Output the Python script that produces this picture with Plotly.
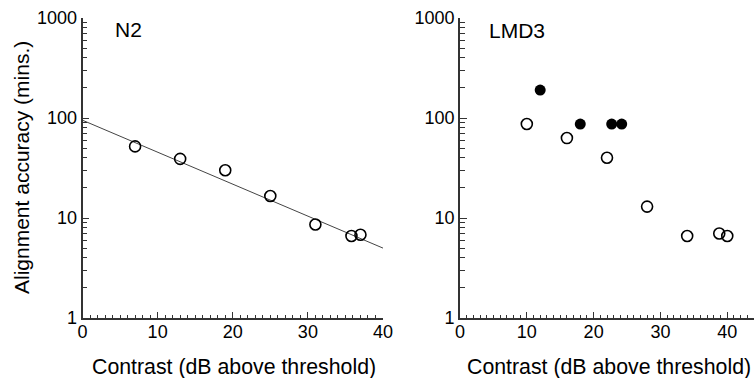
import plotly.graph_objects as go

# ---- data ----
n2_x = [7, 13, 19, 25, 31, 35.8, 37]
n2_y = [52, 39, 30, 16.6, 8.6, 6.6, 6.8]
fit_x = [0, 40]
fit_y = [95, 5.0]

lmd_open_x = [10, 16, 22, 28, 34, 38.8, 40]
lmd_open_y = [87, 63, 40, 13, 6.6, 7.0, 6.6]
lmd_filled_x = [12, 18, 22.7, 24.2]
lmd_filled_y = [190, 87, 87, 87]

x_major = [0, 5, 10, 15, 20, 25, 30, 35, 40]
x_major_text = ["0", "", "10", "", "20", "", "30", "", "40"]
y_major = [1, 10, 100, 1000]
y_major_text = ["1", "10", "100", "1000"]
y_minor = [m * d for d in (1, 10, 100) for m in range(2, 10)]

W, H = 754, 378
FONT = "Liberation Sans, Arial, sans-serif"
AX = "#333333"

fig = go.Figure()

mk_open = dict(symbol="circle-open", size=11, color="black", line=dict(width=1.6, color="black"))
mk_fill = dict(symbol="circle", size=11, color="black")

fig.add_trace(go.Scatter(x=fit_x, y=fit_y, mode="lines", line=dict(color="#444", width=1),
                         xaxis="x", yaxis="y", showlegend=False))
fig.add_trace(go.Scatter(x=n2_x, y=n2_y, mode="markers", marker=mk_open,
                         xaxis="x", yaxis="y", showlegend=False))
fig.add_trace(go.Scatter(x=lmd_open_x, y=lmd_open_y, mode="markers", marker=mk_open,
                         xaxis="x2", yaxis="y2", showlegend=False))
fig.add_trace(go.Scatter(x=lmd_filled_x, y=lmd_filled_y, mode="markers", marker=mk_fill,
                         xaxis="x2", yaxis="y2", showlegend=False))

ydom = [60 / H, 360 / H]

def xaxis(domain, rng, anchor):
    return dict(domain=domain, range=rng, anchor=anchor, automargin=False,
                tickmode="array", tickvals=x_major, ticktext=x_major_text,
                ticks="inside", ticklen=6, tickwidth=1.2, tickcolor=AX,
                ticklabelstandoff=-3,
                minor=dict(tickvals=list(range(0, 45)), ticks="inside", ticklen=3,
                           tickwidth=1, tickcolor=AX),
                showline=True, linecolor=AX, linewidth=1.6,
                showgrid=False, zeroline=False,
                tickfont=dict(family=FONT, size=18, color="black"))

def yaxis(anchor):
    return dict(domain=ydom, type="log", range=[0, 3], anchor=anchor, automargin=False,
                tickmode="array", tickvals=y_major, ticktext=y_major_text,
                ticks="inside", ticklen=7, tickwidth=1.2, tickcolor=AX,
                minor=dict(tickvals=y_minor, ticks="inside", ticklen=5,
                           tickwidth=1, tickcolor=AX),
                showline=True, linecolor=AX, linewidth=1.6,
                showgrid=False, zeroline=False,
                tickfont=dict(family=FONT, size=18, color="black"))

fig.update_layout(
    template="none",
    width=W, height=H, margin=dict(l=0, r=0, t=0, b=0, pad=0),
    paper_bgcolor="white", plot_bgcolor="white",
    xaxis=xaxis([82.5 / W, 383 / W], [0, 40], "y"),
    yaxis=yaxis("x"),
    xaxis2=xaxis([460 / W, 1.0], [0, 44], "y2"),
    yaxis2=yaxis("x2"),
    font=dict(family=FONT, color="black"),
)

def ann(text, x, y, size, **kw):
    fig.add_annotation(text=text, x=x / W, y=1 - y / H, xref="paper", yref="paper",
                       showarrow=False, font=dict(family=FONT, size=size, color="black"), **kw)

ann("N2", 113, 29, 21, xanchor="left", yanchor="middle")
ann("LMD3", 487, 31, 21, xanchor="left", yanchor="middle")
ann("Contrast (dB above threshold)", 234, 367, 21.3, xanchor="center", yanchor="middle")
ann("Contrast (dB above threshold)", 609, 367, 21.3, xanchor="center", yanchor="middle")
ann("Alignment accuracy (mins.)", 21, 168, 21, xanchor="center", yanchor="middle", textangle=-90)

fig.write_html("out.html")
